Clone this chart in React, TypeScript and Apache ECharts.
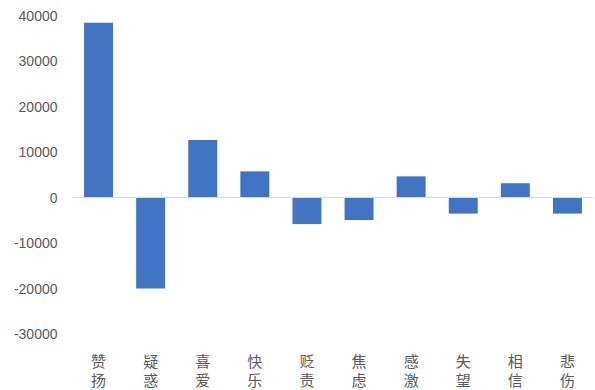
import React, { useEffect, useRef } from "react";
import * as echarts from "echarts";

const categories = ["赞扬", "疑惑", "喜爱", "快乐", "贬责", "焦虑", "感激", "失望", "相信", "悲伤"];
const values = [38500, -20000, 12700, 5800, -5800, -4900, 4700, -3500, 3200, -3500];

export default function App() {
  const ref = useRef<HTMLDivElement>(null);
  useEffect(() => {
    document.body.style.margin = "0";
    const chart = echarts.init(ref.current!, null, { renderer: "svg" });
    chart.setOption({
      animation: false,
      backgroundColor: "#ffffff",
      grid: { left: 72.5, right: 1.5, top: 16, bottom: 56, containLabel: false },
      xAxis: {
        type: "category",
        data: categories,
        position: "bottom",
        axisLine: { show: false, onZero: false },
        axisTick: { show: false },
        axisLabel: {
          interval: 0,
          margin: 17,
          fontSize: 15,
          lineHeight: 19,
          color: "#595959",
          fontFamily: "Noto Sans CJK SC",
          formatter: (v: string) => v.split("").join("\n"),
        },
      },
      yAxis: {
        type: "value",
        min: -30000,
        max: 40000,
        interval: 10000,
        axisLine: { show: false },
        axisTick: { show: false },
        splitLine: { show: false },
        axisLabel: {
          margin: 15,
          fontSize: 14,
          color: "#595959",
          fontFamily: "Liberation Sans",
          formatter: (v: number) => String(v),
        },
      },
      series: [
        {
          type: "bar",
          data: values,
          barWidth: 29,
          itemStyle: { color: "#4175c3" },
          markLine: {
            silent: true,
            symbol: "none",
            label: { show: false },
            lineStyle: { color: "#d9d9d9", type: "solid", width: 1 },
            data: [{ yAxis: 0 }],
          },
        },
      ],
    });
    return () => chart.dispose();
  }, []);
  return <div ref={ref} style={{ width: 595, height: 390 }} />;
}
